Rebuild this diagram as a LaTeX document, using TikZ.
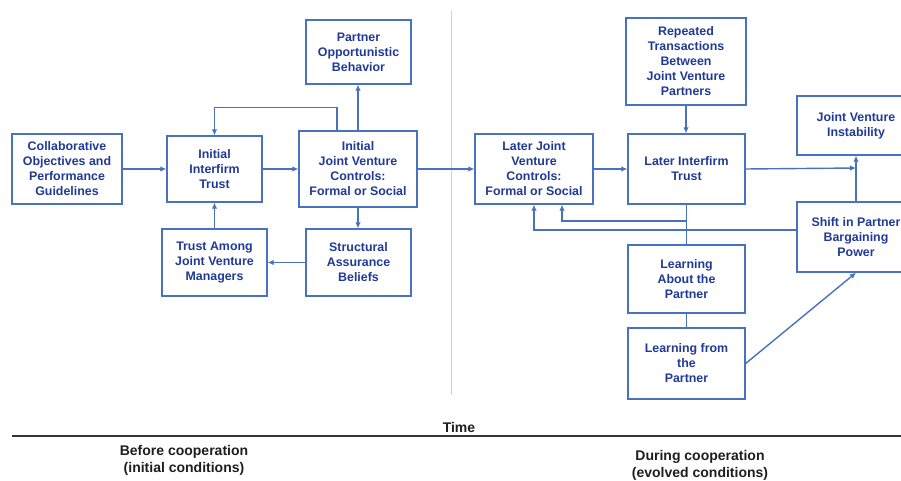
\documentclass[tikz,border=0pt]{standalone}
\usepackage{fontspec}
\setmainfont{Liberation Sans}
\usetikzlibrary{arrows.meta}
\definecolor{boxc}{RGB}{72,114,192}
\definecolor{txtc}{RGB}{32,58,150}
\definecolor{lblc}{RGB}{30,30,30}
\tikzset{
  box/.style={draw=boxc, line width=1.3pt, text=txtc, align=center, inner sep=0pt,
    font=\fontsize{12.4}{15}\selectfont\bfseries},
  arr/.style={draw=boxc, line width=1.4pt, -{Latex[length=6pt,width=5.5pt]}},
  ln/.style={draw=boxc, line width=1.4pt},
  lbl/.style={text=lblc, align=center, inner sep=0pt, font=\fontsize{14}{17}\selectfont\bfseries}
}
\begin{document}
\begin{tikzpicture}[x=1pt,y=-1pt]
\useasboundingbox (0,0) rectangle (901,481);
\clip (0,0) rectangle (901,481);
\fill[white] (0,0) rectangle (901,481);
% divider
\draw[gray!35, line width=0.8pt] (451,10) -- (451,395);
% left boxes
\node[box, minimum width=110pt, minimum height=70pt] (collab) at (67,169) {Collaborative\\Objectives and\\Performance\\Guidelines};
\node[box, minimum width=95pt, minimum height=66pt] (itrust) at (214.5,169) {Initial\\Interfirm\\Trust};
\node[box, minimum width=118pt, minimum height=76pt] (icontrol) at (358,169) {Initial\\Joint Venture\\Controls:\\Formal or Social};
\node[box, minimum width=105pt, minimum height=64pt] (popp) at (358.5,52) {Partner\\Opportunistic\\Behavior};
\node[box, minimum width=105pt, minimum height=67pt] (tamong) at (214.5,262.5) {Trust Among\\Joint Venture\\Managers};
\node[box, minimum width=105pt, minimum height=67pt] (struct) at (358.5,262.5) {Structural\\Assurance\\Beliefs};
% right boxes
\node[box, minimum width=118pt, minimum height=70pt] (lcontrol) at (534,169) {Later Joint\\Venture\\Controls:\\Formal or Social};
\node[box, minimum width=117pt, minimum height=70pt] (ltrust) at (686.5,169) {Later Interfirm\\Trust};
\node[box, minimum width=120pt, minimum height=87pt] (repeat) at (686,61.5) {Repeated\\Transactions\\Between\\Joint Venture\\Partners};
\node[box, minimum width=118pt, minimum height=59pt] (inst) at (856,125.5) {Joint Venture\\Instability};
\node[box, minimum width=118pt, minimum height=70pt] (shift) at (856,237) {Shift in Partner\\Bargaining\\Power};
\node[box, minimum width=117pt, minimum height=68pt] (labout) at (686.5,279) {Learning\\About the\\Partner};
\node[box, minimum width=117pt, minimum height=71pt] (lfrom) at (686.5,363.5) {Learning from\\the\\Partner};
\coordinate (jn) at (856,168);
% connectors left
\draw[arr] (collab.east) -- (itrust.west);
\draw[arr] (itrust.east) -- (icontrol.west);
\draw[arr] (icontrol.east) -- (lcontrol.west);
\draw[arr] ([xshift=-21pt]icontrol.north) -- ++(0,-23) -| (itrust.north);
\draw[arr] (icontrol.north) -- (icontrol.north |- popp.south);
\draw[arr] (icontrol.south) -- (icontrol.south |- struct.north);
\draw[arr] (struct.west) -- (tamong.east);
\draw[arr] (tamong.north) -- (itrust.south);
% connectors right
\draw[arr] (lcontrol.east) -- (ltrust.west);
\draw[arr] (repeat.south) -- (repeat.south |- ltrust.north);
\draw[arr] (ltrust.east) -- (jn);
\draw[arr] (shift.north) -- (inst.south);
\draw[ln] (ltrust.south) -- (labout.north);
\draw[ln] (labout.south) -- (lfrom.north);
\draw[arr] (ltrust.south |- 0,221) -| ([xshift=28pt]lcontrol.south);
\draw[arr] ([yshift=7pt]shift.west) -| (lcontrol.south);
\draw[arr] (lfrom.east) -- (shift.south);
% time axis
\draw[lblc!90, line width=1.6pt] (12,436) -- (901,436);
\node[lbl] (time) at (459,427) {Time};
\node[lbl] (before) at (184,460.5) {Before cooperation\\(initial conditions)};
\node[lbl] (during) at (700,465.5) {During cooperation\\(evolved conditions)};
\end{tikzpicture}
\end{document}
